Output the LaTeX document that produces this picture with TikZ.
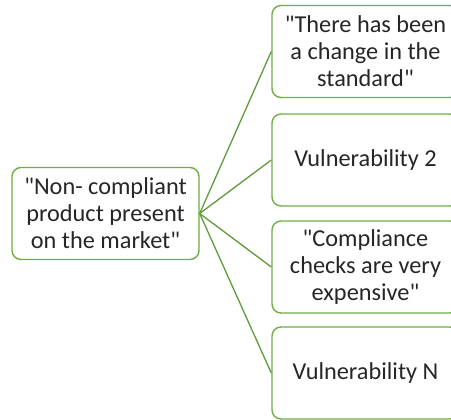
\documentclass[tikz,border=0pt]{standalone}
\usepackage{fontspec}
\setmainfont{Carlito}
\definecolor{leafgreen}{HTML}{70AD47}
\definecolor{linkgreen}{HTML}{5F9A3C}
\definecolor{inktext}{HTML}{262626}
\newcommand{\qt}{\textquotedbl}
\tikzset{
  causebox/.style = {
    draw=leafgreen, line width=1.4pt, rounded corners=9pt,
    minimum width=187pt, minimum height=92pt, inner sep=0pt,
    align=center, text=inktext,
    font=\fontsize{24.3}{27}\selectfont
  },
  link/.style = {draw=linkgreen, line width=1.3pt}
}
\begin{document}
\begin{tikzpicture}[x=1pt,y=-1pt]
  \useasboundingbox (0,0) rectangle (451,420);
  \clip (0,0) rectangle (451,420);
  %
  \node[causebox] (root) at (105.5,213.5)
    {\qt Non- compliant\\product present\\on the market\qt};
  \foreach \num/\ypos/\txt in {
      1/51.5/{\qt There has been\\a change in the\\standard\qt},
      2/160/{Vulnerability 2},
      3/267/{\qt Compliance\\checks are very\\expensive\qt},
      4/373/{Vulnerability N}} {
    \node[causebox] (v\num) at (365.5,\ypos) {\txt};
    \draw[link] (root.east) -- (v\num.west);
  }
\end{tikzpicture}
\end{document}
